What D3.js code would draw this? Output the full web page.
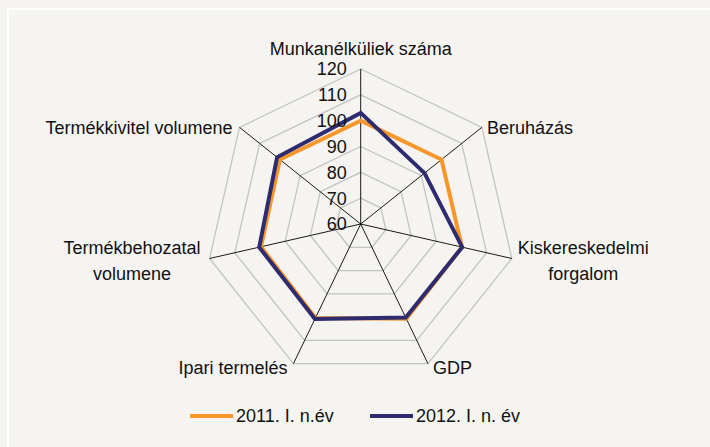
<!DOCTYPE html>
<html>
<head>
<meta charset="utf-8">
<script src="https://cdn.jsdelivr.net/npm/d3@7"></script>
<style>
  html, body { margin: 0; padding: 0; background: #f6f4f1; }
  svg { display: block; }
</style>
</head>
<body>
<div id="chart"></div>
<script>
// Adatok
const categories = [
  ["Munkanélküliek száma"],
  ["Beruházás"],
  ["Kiskereskedelmi", "forgalom"],
  ["GDP"],
  ["Ipari termelés"],
  ["Termékbehozatal", "volumene"],
  ["Termékkivitel volumene"]
];
const ticks = [60, 70, 80, 90, 100, 110, 120];
const series2011 = [100, 100, 100.2, 100.7, 100.4, 99.6, 100];
const series2012 = [103, 91.6, 100.3, 100.2, 100.8, 100.3, 101.4];
const seriesNames = ["2011. I. n.év", "2012. I. n. év"];
const seriesColors = ["#f7962b", "#2f2b6f"];

const width = 710, height = 447;
const cx = 360.7, cy = 224;
const font = "'Liberation Sans Narrow', 'Arial Narrow', 'Liberation Sans', Arial, sans-serif";

const svg = d3.select("#chart").append("svg")
  .attr("width", width)
  .attr("height", height);

svg.append("rect")
  .attr("width", width).attr("height", height)
  .attr("fill", "#f6f4f1");

// fehér keret
svg.append("rect")
  .attr("x", 8).attr("y", 9)
  .attr("width", width + 20).attr("height", height + 20)
  .attr("fill", "none")
  .attr("stroke", "#ffffff")
  .attr("stroke-width", 2);

const r = d3.scaleLinear().domain([60, 120]).range([0, 155]);
const angle = d3.scaleLinear().domain([0, categories.length]).range([0, 2 * Math.PI]);

function pt(i, v) {
  const a = angle(i);
  return [cx + r(v) * Math.sin(a), cy - r(v) * Math.cos(a)];
}

const g = svg.append("g");

// rácsvonalak
ticks.slice(1).forEach(t => {
  g.append("path")
    .attr("d", d3.line()(categories.map((c, i) => pt(i, t))) + "Z")
    .attr("fill", "none")
    .attr("stroke", "#c3c3c3")
    .attr("stroke-width", 1.3);
});

// tengelyek
categories.forEach((c, i) => {
  const [x, y] = pt(i, 120);
  g.append("line")
    .attr("x1", cx).attr("y1", cy)
    .attr("x2", x).attr("y2", y)
    .attr("stroke", "#000")
    .attr("stroke-width", 0.9);
});

// sorozatok
const line = d3.line();
[series2011, series2012].forEach((s, k) => {
  g.append("path")
    .attr("d", line(s.map((v, i) => pt(i, v))) + "Z")
    .attr("fill", "none")
    .attr("stroke", seriesColors[k])
    .attr("stroke-width", 4)
    .attr("stroke-linejoin", "miter");
});

// skála feliratok
ticks.forEach(t => {
  g.append("text")
    .attr("x", cx - 14)
    .attr("y", cy - r(t))
    .attr("dy", "0.36em")
    .attr("text-anchor", "end")
    .attr("font-family", font)
    .attr("font-size", 18)
    .attr("fill", "#111")
    .text(t);
});

// kategória feliratok
const lineH = 26;
categories.forEach((lines, i) => {
  const [x, y] = pt(i, 120);
  const t = g.append("text")
    .attr("font-family", font)
    .attr("font-size", 18)
    .attr("fill", "#111");
  const tsp = lines.map(l => t.append("tspan").text(l));
  const w = d3.max(tsp, s => s.node().getComputedTextLength());
  let tx, anchor, ty;
  if (i === 0) { anchor = "middle"; tx = x; ty = y - 20; }
  else if (i === 1) { anchor = "start"; tx = x + 5; ty = y; }
  else if (i === 2) { anchor = "middle"; tx = x + 6 + w / 2; ty = y + 2; }
  else if (i === 3) { anchor = "start"; tx = x + 5; ty = y + 4; }
  else if (i === 4) { anchor = "end"; tx = x - 6; ty = y + 4; }
  else if (i === 5) { anchor = "middle"; tx = x - 9 - w / 2; ty = y + 2; }
  else { anchor = "end"; tx = x - 7; ty = y; }
  t.attr("text-anchor", anchor);
  const y0 = ty - (lines.length - 1) * lineH / 2;
  tsp.forEach((s, j) => {
    s.attr("x", tx).attr("y", y0 + j * lineH).attr("dy", "0.36em");
  });
});

// jelmagyarázat
const legX = [190, 370];
seriesNames.forEach((n, k) => {
  svg.append("line")
    .attr("x1", legX[k]).attr("x2", legX[k] + 43)
    .attr("y1", 416).attr("y2", 416)
    .attr("stroke", seriesColors[k])
    .attr("stroke-width", 4);
  svg.append("text")
    .attr("x", legX[k] + 46)
    .attr("y", 416)
    .attr("dy", "0.36em")
    .attr("font-family", font)
    .attr("font-size", 18)
    .attr("fill", "#111")
    .text(n);
});
</script>
</body>
</html>
